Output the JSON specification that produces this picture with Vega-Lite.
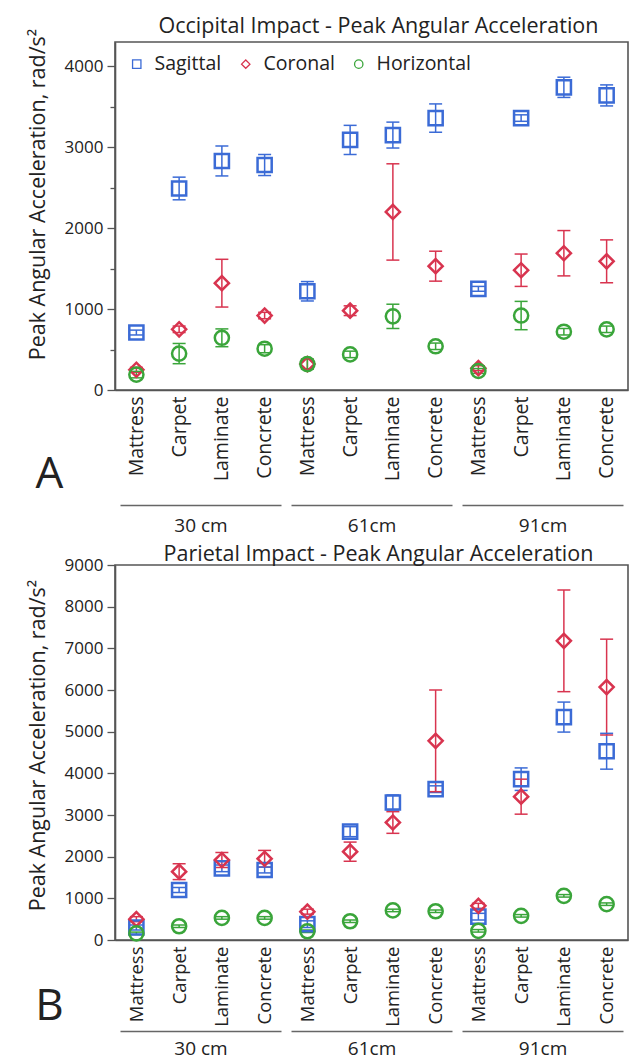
{
  "$schema": "https://vega.github.io/schema/vega-lite/v6.json",
  "background": "white",
  "padding": {"left": 26, "top": 14, "right": 0, "bottom": 0},
  "spacing": 6,
  "config": {
    "font": "Open Sans",
    "view": {"stroke": "#555", "strokeWidth": 1.6},
    "axis": {"labelColor": "#222", "titleColor": "#222", "domainColor": "#555", "tickColor": "#555", "titleFontWeight": "normal", "domainWidth": 1.6, "tickWidth": 1.3},
    "title": {"fontWeight": "normal", "color": "#222", "fontSize": 21.5},
    "legend": {"labelColor": "#222"}
  },
  "datasets": {
    "occ": [
      {"cat": "30 cm|Mattress", "g": "30 cm", "plane": "Sagittal", "m": 710, "lo": 680, "hi": 740},
      {"cat": "30 cm|Carpet", "g": "30 cm", "plane": "Sagittal", "m": 2490, "lo": 2350, "hi": 2630},
      {"cat": "30 cm|Laminate", "g": "30 cm", "plane": "Sagittal", "m": 2830, "lo": 2645, "hi": 3015},
      {"cat": "30 cm|Concrete", "g": "30 cm", "plane": "Sagittal", "m": 2780, "lo": 2650, "hi": 2910},
      {"cat": "61cm|Mattress", "g": "61cm", "plane": "Sagittal", "m": 1220, "lo": 1100, "hi": 1340},
      {"cat": "61cm|Carpet", "g": "61cm", "plane": "Sagittal", "m": 3090, "lo": 2910, "hi": 3270},
      {"cat": "61cm|Laminate", "g": "61cm", "plane": "Sagittal", "m": 3150, "lo": 2990, "hi": 3310},
      {"cat": "61cm|Concrete", "g": "61cm", "plane": "Sagittal", "m": 3360, "lo": 3185, "hi": 3535},
      {"cat": "91cm|Mattress", "g": "91cm", "plane": "Sagittal", "m": 1250, "lo": 1220, "hi": 1280},
      {"cat": "91cm|Carpet", "g": "91cm", "plane": "Sagittal", "m": 3360, "lo": 3320, "hi": 3400},
      {"cat": "91cm|Laminate", "g": "91cm", "plane": "Sagittal", "m": 3740, "lo": 3615, "hi": 3865},
      {"cat": "91cm|Concrete", "g": "91cm", "plane": "Sagittal", "m": 3640, "lo": 3510, "hi": 3770},
      {"cat": "30 cm|Mattress", "g": "30 cm", "plane": "Coronal", "m": 250, "lo": 220, "hi": 280},
      {"cat": "30 cm|Carpet", "g": "30 cm", "plane": "Coronal", "m": 750, "lo": 710, "hi": 790},
      {"cat": "30 cm|Laminate", "g": "30 cm", "plane": "Coronal", "m": 1320, "lo": 1025, "hi": 1615},
      {"cat": "30 cm|Concrete", "g": "30 cm", "plane": "Coronal", "m": 920, "lo": 880, "hi": 960},
      {"cat": "61cm|Mattress", "g": "61cm", "plane": "Coronal", "m": 320, "lo": 260, "hi": 380},
      {"cat": "61cm|Carpet", "g": "61cm", "plane": "Coronal", "m": 980, "lo": 920, "hi": 1040},
      {"cat": "61cm|Laminate", "g": "61cm", "plane": "Coronal", "m": 2200, "lo": 1605, "hi": 2795},
      {"cat": "61cm|Concrete", "g": "61cm", "plane": "Coronal", "m": 1530, "lo": 1345, "hi": 1715},
      {"cat": "91cm|Mattress", "g": "91cm", "plane": "Coronal", "m": 270, "lo": 240, "hi": 300},
      {"cat": "91cm|Carpet", "g": "91cm", "plane": "Coronal", "m": 1480, "lo": 1280, "hi": 1680},
      {"cat": "91cm|Laminate", "g": "91cm", "plane": "Coronal", "m": 1690, "lo": 1410, "hi": 1970},
      {"cat": "91cm|Concrete", "g": "91cm", "plane": "Coronal", "m": 1590, "lo": 1325, "hi": 1855},
      {"cat": "30 cm|Mattress", "g": "30 cm", "plane": "Horizontal", "m": 190, "lo": 150, "hi": 230},
      {"cat": "30 cm|Carpet", "g": "30 cm", "plane": "Horizontal", "m": 450, "lo": 325, "hi": 575},
      {"cat": "30 cm|Laminate", "g": "30 cm", "plane": "Horizontal", "m": 645, "lo": 535, "hi": 755},
      {"cat": "30 cm|Concrete", "g": "30 cm", "plane": "Horizontal", "m": 510, "lo": 460, "hi": 560},
      {"cat": "61cm|Mattress", "g": "61cm", "plane": "Horizontal", "m": 320, "lo": 260, "hi": 380},
      {"cat": "61cm|Carpet", "g": "61cm", "plane": "Horizontal", "m": 440, "lo": 400, "hi": 480},
      {"cat": "61cm|Laminate", "g": "61cm", "plane": "Horizontal", "m": 910, "lo": 760, "hi": 1060},
      {"cat": "61cm|Concrete", "g": "61cm", "plane": "Horizontal", "m": 540, "lo": 500, "hi": 580},
      {"cat": "91cm|Mattress", "g": "91cm", "plane": "Horizontal", "m": 235, "lo": 205, "hi": 265},
      {"cat": "91cm|Carpet", "g": "91cm", "plane": "Horizontal", "m": 920, "lo": 745, "hi": 1095},
      {"cat": "91cm|Laminate", "g": "91cm", "plane": "Horizontal", "m": 720, "lo": 680, "hi": 760},
      {"cat": "91cm|Concrete", "g": "91cm", "plane": "Horizontal", "m": 750, "lo": 710, "hi": 790}
    ],
    "par": [
      {"cat": "30 cm|Mattress", "g": "30 cm", "plane": "Sagittal", "m": 300, "lo": 240, "hi": 360},
      {"cat": "30 cm|Carpet", "g": "30 cm", "plane": "Sagittal", "m": 1200, "lo": 1140, "hi": 1260},
      {"cat": "30 cm|Laminate", "g": "30 cm", "plane": "Sagittal", "m": 1720, "lo": 1640, "hi": 1800},
      {"cat": "30 cm|Concrete", "g": "30 cm", "plane": "Sagittal", "m": 1680, "lo": 1610, "hi": 1750},
      {"cat": "61cm|Mattress", "g": "61cm", "plane": "Sagittal", "m": 380, "lo": 300, "hi": 460},
      {"cat": "61cm|Carpet", "g": "61cm", "plane": "Sagittal", "m": 2600, "lo": 2480, "hi": 2720},
      {"cat": "61cm|Laminate", "g": "61cm", "plane": "Sagittal", "m": 3300, "lo": 3120, "hi": 3480},
      {"cat": "61cm|Concrete", "g": "61cm", "plane": "Sagittal", "m": 3620, "lo": 3540, "hi": 3700},
      {"cat": "91cm|Mattress", "g": "91cm", "plane": "Sagittal", "m": 560, "lo": 480, "hi": 640},
      {"cat": "91cm|Carpet", "g": "91cm", "plane": "Sagittal", "m": 3860, "lo": 3590, "hi": 4130},
      {"cat": "91cm|Laminate", "g": "91cm", "plane": "Sagittal", "m": 5350, "lo": 4990, "hi": 5710},
      {"cat": "91cm|Concrete", "g": "91cm", "plane": "Sagittal", "m": 4530, "lo": 4100, "hi": 4960},
      {"cat": "30 cm|Mattress", "g": "30 cm", "plane": "Coronal", "m": 500, "lo": 440, "hi": 560},
      {"cat": "30 cm|Carpet", "g": "30 cm", "plane": "Coronal", "m": 1640, "lo": 1450, "hi": 1830},
      {"cat": "30 cm|Laminate", "g": "30 cm", "plane": "Coronal", "m": 1920, "lo": 1740, "hi": 2100},
      {"cat": "30 cm|Concrete", "g": "30 cm", "plane": "Coronal", "m": 1950, "lo": 1750, "hi": 2150},
      {"cat": "61cm|Mattress", "g": "61cm", "plane": "Coronal", "m": 680, "lo": 620, "hi": 740},
      {"cat": "61cm|Carpet", "g": "61cm", "plane": "Coronal", "m": 2120, "lo": 1890, "hi": 2350},
      {"cat": "61cm|Laminate", "g": "61cm", "plane": "Coronal", "m": 2820, "lo": 2560, "hi": 3080},
      {"cat": "61cm|Concrete", "g": "61cm", "plane": "Coronal", "m": 4780, "lo": 3560, "hi": 6000},
      {"cat": "91cm|Mattress", "g": "91cm", "plane": "Coronal", "m": 820, "lo": 760, "hi": 880},
      {"cat": "91cm|Carpet", "g": "91cm", "plane": "Coronal", "m": 3440, "lo": 3020, "hi": 3860},
      {"cat": "91cm|Laminate", "g": "91cm", "plane": "Coronal", "m": 7180, "lo": 5960, "hi": 8400},
      {"cat": "91cm|Concrete", "g": "91cm", "plane": "Coronal", "m": 6070, "lo": 4920, "hi": 7220},
      {"cat": "30 cm|Mattress", "g": "30 cm", "plane": "Horizontal", "m": 160, "lo": 130, "hi": 190},
      {"cat": "30 cm|Carpet", "g": "30 cm", "plane": "Horizontal", "m": 330, "lo": 300, "hi": 360},
      {"cat": "30 cm|Laminate", "g": "30 cm", "plane": "Horizontal", "m": 530, "lo": 500, "hi": 560},
      {"cat": "30 cm|Concrete", "g": "30 cm", "plane": "Horizontal", "m": 530, "lo": 500, "hi": 560},
      {"cat": "61cm|Mattress", "g": "61cm", "plane": "Horizontal", "m": 210, "lo": 180, "hi": 240},
      {"cat": "61cm|Carpet", "g": "61cm", "plane": "Horizontal", "m": 450, "lo": 420, "hi": 480},
      {"cat": "61cm|Laminate", "g": "61cm", "plane": "Horizontal", "m": 710, "lo": 680, "hi": 740},
      {"cat": "61cm|Concrete", "g": "61cm", "plane": "Horizontal", "m": 690, "lo": 660, "hi": 720},
      {"cat": "91cm|Mattress", "g": "91cm", "plane": "Horizontal", "m": 220, "lo": 190, "hi": 250},
      {"cat": "91cm|Carpet", "g": "91cm", "plane": "Horizontal", "m": 580, "lo": 550, "hi": 610},
      {"cat": "91cm|Laminate", "g": "91cm", "plane": "Horizontal", "m": 1060, "lo": 1030, "hi": 1090},
      {"cat": "91cm|Concrete", "g": "91cm", "plane": "Horizontal", "m": 860, "lo": 830, "hi": 890}
    ]
  },
  "vconcat": [
    {
      "width": 513,
      "height": 348,
      "title": {"text": "Occipital Impact - Peak Angular Acceleration", "offset": -9, "dx": 7},
      "data": {"name": "occ"},
      "layer": [
        {
          "encoding": {
            "x": {"field": "cat", "type": "nominal", "sort": null,
              "scale": {"type": "point", "padding": 0.5, "domain": ["30 cm|Mattress", "30 cm|Carpet", "30 cm|Laminate", "30 cm|Concrete", "61cm|Mattress", "61cm|Carpet", "61cm|Laminate", "61cm|Concrete", "91cm|Mattress", "91cm|Carpet", "91cm|Laminate", "91cm|Concrete"]},
              "axis": {"title": "A", "labelAngle": -90, "labelExpr": "split(datum.value, '|')[1]", "ticks": false, "labelPadding": 6, "labelFontSize": 19.5, "titleFontSize": 44, "titleX": -66, "titleY": 62, "titleAlign": "center", "titleBaseline": "top"}},
            "color": {"field": "plane", "type": "nominal",
              "scale": {"domain": ["Sagittal", "Coronal", "Horizontal"], "range": ["#3b6bd6", "#d8344f", "#3aa53a"]},
              "legend": {"title": null, "orient": "top-left", "direction": "horizontal", "offset": 12, "symbolSize": 70, "symbolStrokeWidth": 1.3, "symbolFillColor": "transparent", "labelFontSize": 19.5, "columnPadding": 14, "labelOffset": 8,
                "encode": {"symbols": {"update": {"fill": {"value": "transparent"}, "strokeWidth": {"value": 1.3}, "stroke": {"signal": "datum.value === 'Sagittal' ? '#3b6bd6' : datum.value === 'Coronal' ? '#d8344f' : '#3aa53a'"}}}}}}
          },
          "layer": [
            {"mark": {"type": "rule", "strokeWidth": 1.5, "opacity": 1},
             "encoding": {"y": {"field": "lo", "type": "quantitative", "scale": {"domain": [0, 4300], "nice": false}, "axis": {"title": "Peak Angular Acceleration, rad/s²", "values": [0, 500, 1000, 1500, 2000, 2500, 3000, 3500, 4000], "labelExpr": "datum.value % 1000 === 0 ? datum.value : ''", "tickSize": {"condition": {"test": "datum.value % 1000 === 0", "value": 8}, "value": 5}, "labelFontSize": 17, "titleFontSize": 21.5, "titlePadding": 15, "titleY": 152, "labelPadding": 4, "grid": false}},
                          "y2": {"field": "hi"}}},
            {"mark": {"type": "rule", "strokeWidth": 1.5, "opacity": 1, "xOffset": -6.5, "x2Offset": 6.5},
             "encoding": {"x2": {"field": "cat"}, "y": {"field": "lo", "type": "quantitative", "scale": {"domain": [0, 4300], "nice": false}}}},
            {"mark": {"type": "rule", "strokeWidth": 1.5, "opacity": 1, "xOffset": -6.5, "x2Offset": 6.5},
             "encoding": {"x2": {"field": "cat"}, "y": {"field": "hi", "type": "quantitative", "scale": {"domain": [0, 4300], "nice": false}}}},
            {"mark": {"type": "point", "filled": false, "strokeWidth": 2.5, "size": 200, "opacity": 1},
             "encoding": {"y": {"field": "m", "type": "quantitative", "scale": {"domain": [0, 4300], "nice": false}},
                          "shape": {"field": "plane", "type": "nominal", "scale": {"domain": ["Sagittal", "Coronal", "Horizontal"], "range": ["square", "diamond", "circle"]},
                            "legend": {"title": null, "orient": "top-left", "direction": "horizontal", "offset": 12, "symbolSize": 70, "symbolStrokeWidth": 1.3, "symbolFillColor": "transparent", "labelFontSize": 19.5, "columnPadding": 14, "labelOffset": 8,
                              "encode": {"symbols": {"update": {"fill": {"value": "transparent"}, "strokeWidth": {"value": 1.3}, "stroke": {"signal": "datum.value === 'Sagittal' ? '#3b6bd6' : datum.value === 'Coronal' ? '#d8344f' : '#3aa53a'"}}}}}}}}
          ]
        },
        {
          "mark": {"type": "text", "text": ""},
          "encoding": {
            "x": {"field": "g", "type": "nominal", "sort": null,
              "scale": {"type": "point", "padding": 0.5, "domain": ["30 cm", "61cm", "91cm"]},
              "axis": {"orient": "bottom", "title": null, "offset": 115, "ticks": false, "labelAngle": 0, "labelFontSize": 19, "labelPadding": 11, "domainDash": [161, 10], "domainDashOffset": 166, "domainColor": "#666", "domainWidth": 1.5}}
          }
        }
      ],
      "resolve": {"scale": {"x": "independent"}, "axis": {"x": "independent"}}
    },
    {
      "width": 513,
      "height": 375,
      "title": {"text": "Parietal Impact - Peak Angular Acceleration", "offset": -9, "dx": 7},
      "data": {"name": "par"},
      "layer": [
        {
          "encoding": {
            "x": {"field": "cat", "type": "nominal", "sort": null,
              "scale": {"type": "point", "padding": 0.5, "domain": ["30 cm|Mattress", "30 cm|Carpet", "30 cm|Laminate", "30 cm|Concrete", "61cm|Mattress", "61cm|Carpet", "61cm|Laminate", "61cm|Concrete", "91cm|Mattress", "91cm|Carpet", "91cm|Laminate", "91cm|Concrete"]},
              "axis": {"title": "B", "labelAngle": -90, "labelExpr": "split(datum.value, '|')[1]", "ticks": false, "labelPadding": 6, "labelFontSize": 18.5, "titleFontSize": 44, "titleX": -66, "titleY": 44, "titleAlign": "center", "titleBaseline": "top"}},
            "color": {"field": "plane", "type": "nominal",
              "scale": {"domain": ["Sagittal", "Coronal", "Horizontal"], "range": ["#3b6bd6", "#d8344f", "#3aa53a"]},
              "legend": {"title": null, "orient": "top-left", "direction": "horizontal", "offset": 12, "symbolSize": 70, "symbolStrokeWidth": 1.3, "symbolFillColor": "transparent", "labelFontSize": 19.5, "columnPadding": 14, "labelOffset": 8,
                "encode": {"symbols": {"update": {"fill": {"value": "transparent"}, "strokeWidth": {"value": 1.3}, "stroke": {"signal": "datum.value === 'Sagittal' ? '#3b6bd6' : datum.value === 'Coronal' ? '#d8344f' : '#3aa53a'"}}}}}}
          },
          "layer": [
            {"mark": {"type": "rule", "strokeWidth": 1.5, "opacity": 1},
             "encoding": {"y": {"field": "lo", "type": "quantitative", "scale": {"domain": [0, 9000], "nice": false}, "axis": {"title": "Peak Angular Acceleration, rad/s²", "values": [0, 500, 1000, 1500, 2000, 2500, 3000, 3500, 4000, 4500, 5000, 5500, 6000, 6500, 7000, 7500, 8000, 8500, 9000], "labelExpr": "datum.value % 1000 === 0 ? datum.value : ''", "tickSize": {"condition": {"test": "datum.value % 1000 === 0", "value": 8}, "value": 5}, "labelFontSize": 17, "titleFontSize": 21.5, "titlePadding": 15, "titleY": 180, "labelPadding": 4, "grid": false}},
                          "y2": {"field": "hi"}}},
            {"mark": {"type": "rule", "strokeWidth": 1.5, "opacity": 1, "xOffset": -6.5, "x2Offset": 6.5},
             "encoding": {"x2": {"field": "cat"}, "y": {"field": "lo", "type": "quantitative", "scale": {"domain": [0, 9000], "nice": false}}}},
            {"mark": {"type": "rule", "strokeWidth": 1.5, "opacity": 1, "xOffset": -6.5, "x2Offset": 6.5},
             "encoding": {"x2": {"field": "cat"}, "y": {"field": "hi", "type": "quantitative", "scale": {"domain": [0, 9000], "nice": false}}}},
            {"mark": {"type": "point", "filled": false, "strokeWidth": 2.5, "size": 200, "opacity": 1},
             "encoding": {"y": {"field": "m", "type": "quantitative", "scale": {"domain": [0, 9000], "nice": false}},
                          "shape": {"field": "plane", "type": "nominal", "scale": {"domain": ["Sagittal", "Coronal", "Horizontal"], "range": ["square", "diamond", "circle"]},
                            "legend": {"title": null, "orient": "top-left", "direction": "horizontal", "offset": 12, "symbolSize": 70, "symbolStrokeWidth": 1.3, "symbolFillColor": "transparent", "labelFontSize": 19.5, "columnPadding": 14, "labelOffset": 8,
                              "encode": {"symbols": {"update": {"fill": {"value": "transparent"}, "strokeWidth": {"value": 1.3}, "stroke": {"signal": "datum.value === 'Sagittal' ? '#3b6bd6' : datum.value === 'Coronal' ? '#d8344f' : '#3aa53a'"}}}}}}}}
          ]
        },
        {
          "mark": {"type": "text", "text": ""},
          "encoding": {
            "x": {"field": "g", "type": "nominal", "sort": null,
              "scale": {"type": "point", "padding": 0.5, "domain": ["30 cm", "61cm", "91cm"]},
              "axis": {"orient": "bottom", "title": null, "offset": 91, "ticks": false, "labelAngle": 0, "labelFontSize": 19, "labelPadding": 8, "domainDash": [161, 10], "domainDashOffset": 166, "domainColor": "#666", "domainWidth": 1.5}}
          }
        }
      ],
      "resolve": {"scale": {"x": "independent"}, "axis": {"x": "independent"}}
    }
  ]
}
